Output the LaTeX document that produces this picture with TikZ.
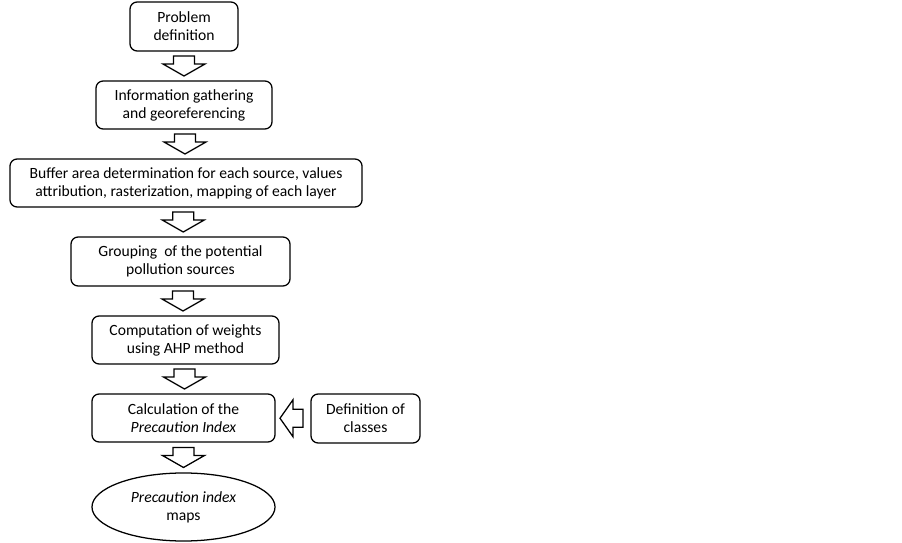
\documentclass[tikz,border=0pt]{standalone}
\usepackage{fontspec}
\setmainfont{Carlito}
\usetikzlibrary{shapes.geometric,calc}

\tikzset{
  stepbox/.style={draw,line width=0.9pt,rounded corners=0.18cm,align=center,
    inner sep=0pt,font=\fontsize{11.1}{12.9}\selectfont},
  endbox/.style={draw,ellipse,line width=0.9pt,align=center,inner sep=0pt,
    font=\fontsize{11.1}{12.9}\selectfont},
  blk/.style={draw,line width=0.9pt,fill=white,line join=miter}
}

% hollow block arrows between two nodes
\newcommand{\downblk}[2]{
  \draw[blk] ($(#1.south)!0.5!(#2.north)$) ++(-10.5,-10) -- ++(0,8) -- ++(-10.5,0)
    -- ++(21,12) -- ++(21,-12) -- ++(-10.5,0) -- ++(0,-8) -- cycle;
}
\newcommand{\leftblk}[2]{
  \draw[blk] ($(#1.west)!0.5!(#2.east)$) ++(10,-9) -- ++(-10,0) -- ++(0,-9.5)
    -- ++(-13,18.5) -- ++(13,18.5) -- ++(0,-9.5) -- ++(10,0) -- cycle;
}

\begin{document}
\begin{tikzpicture}[x=0.025cm,y=-0.025cm]
    \useasboundingbox (0,0) rectangle (902,543);

    \node[stepbox,minimum width=2.7cm,minimum height=1.225cm] (problem) at (184,26.5)
      {Problem\\definition};
    \node[stepbox,minimum width=4.4cm,minimum height=1.2cm] (info) at (184,105)
      {Information gathering\\and georeferencing};
    \node[stepbox,minimum width=8.8cm,minimum height=1.2cm] (buffer) at (186,183)
      {Buffer area determination for each source, values\\attribution, rasterization, mapping of each layer};
    \node[stepbox,minimum width=5.475cm,minimum height=1.225cm] (group) at (180.5,261.5)
      {Grouping\ \ of the potential\\pollution sources};
    \node[stepbox,minimum width=4.675cm,minimum height=1.2cm] (weights) at (185.5,340)
      {Computation of weights\\using AHP method};
    \node[stepbox,minimum width=4.575cm,minimum height=1.2cm] (calc) at (183.5,418)
      {Calculation of the\\\textit{Precaution Index}};
    \node[stepbox,minimum width=2.725cm,minimum height=1.225cm] (classes) at (365.5,418.5)
      {Definition of\\classes};
    \node[endbox,minimum width=4.575cm,minimum height=1.7cm] (maps) at (183.5,507)
      {\textit{Precaution index}\\maps};

    \downblk{problem}{info}
    \downblk{info}{buffer}
    \downblk{buffer}{group}
    \downblk{group}{weights}
    \downblk{weights}{calc}
    \downblk{calc}{maps}
    \leftblk{classes}{calc}
\end{tikzpicture}
\end{document}
